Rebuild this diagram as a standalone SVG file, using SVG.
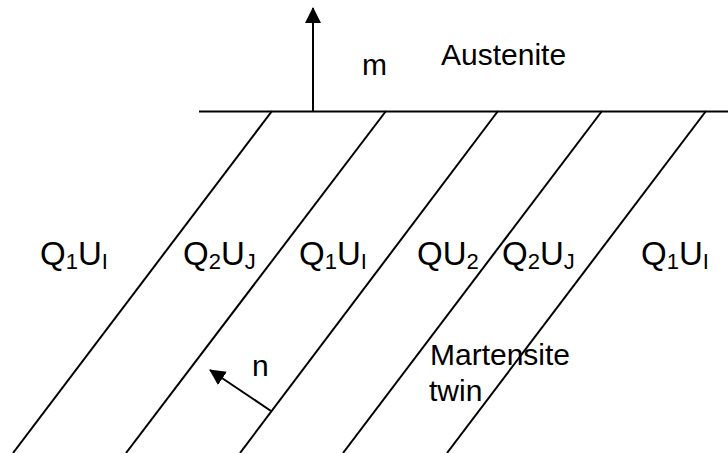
<svg xmlns="http://www.w3.org/2000/svg" width="728" height="453" viewBox="0 0 728 453">
<style>
.ln{stroke:#000;stroke-width:2;fill:none}
.t{font-family:"Liberation Sans",Arial,sans-serif;fill:#000}
.big{font-size:30px}
.lab{font-size:33px}
.sub{font-size:22px}
</style>
<defs>
<marker id="ah" viewBox="0 0 16 16" refX="15" refY="8" markerWidth="16" markerHeight="16" markerUnits="userSpaceOnUse" orient="auto">
<path d="M0,0 L16,8 L0,16 z" fill="#000"/>
</marker>
</defs>
<g id="connectors">
<line class="ln" x1="199" y1="111.5" x2="728" y2="111.5"/>
<line class="ln" x1="272" y1="111" x2="13" y2="453"/>
<line class="ln" x1="386" y1="111" x2="126" y2="453"/>
<line class="ln" x1="498" y1="111" x2="240" y2="453"/>
<line class="ln" x1="602" y1="111" x2="343" y2="453"/>
<line class="ln" x1="706" y1="111" x2="447" y2="453"/>
<line class="ln" x1="313" y1="111" x2="313" y2="8" marker-end="url(#ah)"/>
<line class="ln" x1="271" y1="411" x2="210" y2="370" marker-end="url(#ah)"/>
</g>
<g id="austenite"><text class="t big" x="441" y="65">Austenite</text></g>
<g id="m-label"><text class="t big" x="362" y="75">m</text></g>
<g id="n-label"><text class="t big" x="252" y="376">n</text></g>
<g id="martensite"><text class="t big" x="430" y="365">Martensite</text><text class="t big" x="429" y="401">twin</text></g>
<g id="v1"><text class="t lab" x="40" y="265">Q<tspan class="sub" dy="4">1</tspan><tspan dy="-4">U</tspan><tspan class="sub" dy="4">I</tspan></text></g>
<g id="v2"><text class="t lab" x="183" y="265">Q<tspan class="sub" dy="4">2</tspan><tspan dy="-4">U</tspan><tspan class="sub" dy="4">J</tspan></text></g>
<g id="v3"><text class="t lab" x="299" y="265">Q<tspan class="sub" dy="4">1</tspan><tspan dy="-4">U</tspan><tspan class="sub" dy="4">I</tspan></text></g>
<g id="v4"><text class="t lab" x="417" y="265">QU<tspan class="sub" dy="4">2</tspan></text></g>
<g id="v5"><text class="t lab" x="502" y="265">Q<tspan class="sub" dy="4">2</tspan><tspan dy="-4">U</tspan><tspan class="sub" dy="4">J</tspan></text></g>
<g id="v6"><text class="t lab" x="641" y="265">Q<tspan class="sub" dy="4">1</tspan><tspan dy="-4">U</tspan><tspan class="sub" dy="4">I</tspan></text></g>
</svg>
